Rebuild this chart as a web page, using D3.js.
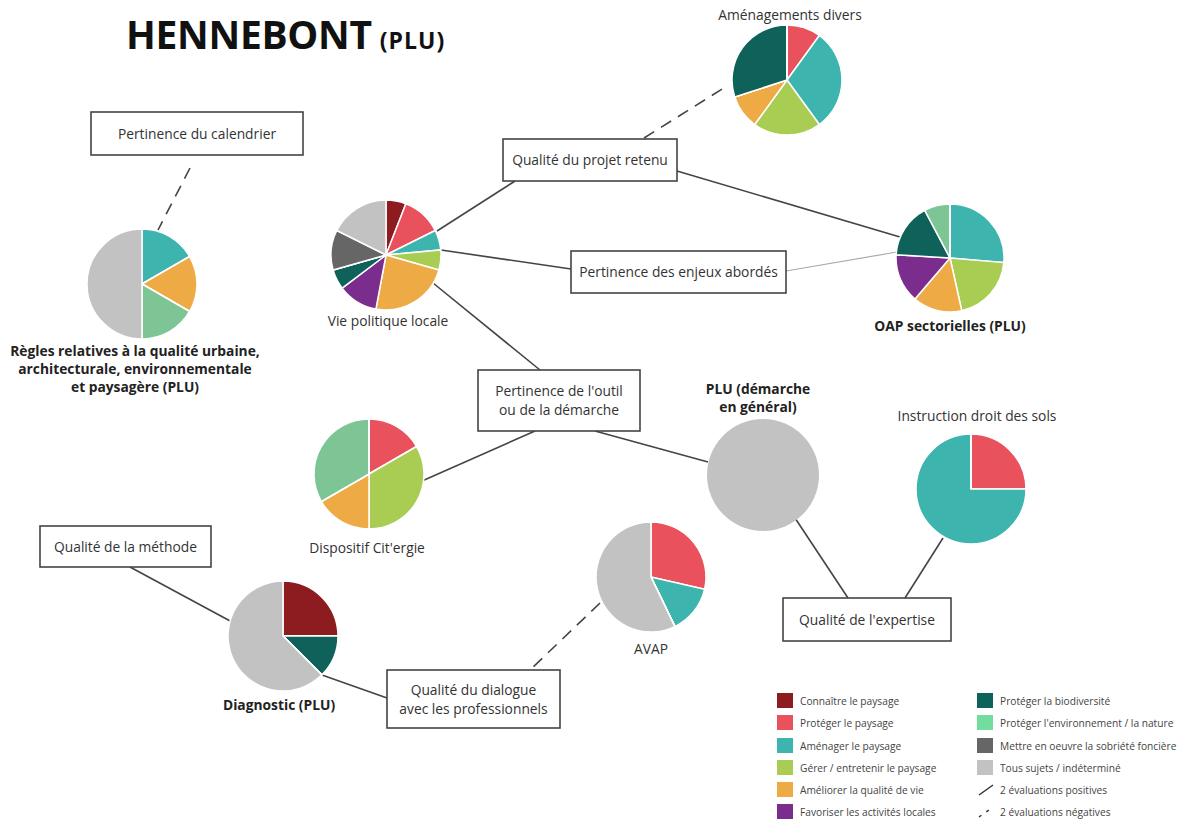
<!DOCTYPE html>
<html>
<head>
<meta charset="utf-8">
<script src="https://cdnjs.cloudflare.com/ajax/libs/d3/7.8.5/d3.min.js"></script>
<style>
  body { margin: 0; background: #fff; }
  text { font-family: "Open Sans", "Noto Sans", sans-serif; fill: #333; }
</style>
</head>
<body>
<div id="chart"></div>
<script>
// categories (legend order = slice order)
var categories = ["Connaître le paysage", "Protéger le paysage", "Aménager le paysage",
  "Gérer / entretenir le paysage", "Améliorer la qualité de vie", "Favoriser les activités locales",
  "Protéger la biodiversité", "Protéger l'environnement / la nature",
  "Mettre en oeuvre la sobriété foncière", "Tous sujets / indéterminé"];
var colors = ["#8c1c1f", "#e9525c", "#3db5ae", "#a9cc52", "#eeab45", "#7a2d8c",
  "#0f6259", "#7ec596", "#666666", "#c2c2c2"];

// values per pie, in category order
var amenagementsDivers = [0, 1, 3, 2, 1, 0, 3, 0, 0, 0];
var viePolitique      = [1, 2, 1, 1, 4, 2, 1, 0, 2, 3];
var oapSectorielles   = [0, 0, 3.4, 2.6, 1.9, 1.9, 2.1, 1, 0, 0];
var reglesQualite     = [0, 0, 1, 0, 1, 0, 0, 1, 0, 3];
var citergie          = [0, 1, 0, 2, 1, 0, 0, 2, 0, 0];
var pluGeneral        = [0, 0, 0, 0, 0, 0, 0, 0, 0, 1];
var instructionSols   = [0, 1, 3, 0, 0, 0, 0, 0, 0, 0];
var diagnostic        = [2, 0, 0, 0, 0, 0, 1, 0, 0, 5];
var avap              = [0, 2, 1, 0, 0, 0, 0, 0, 0, 4];

var svg = d3.select("#chart").append("svg")
    .attr("width", 1185)
    .attr("height", 823);

// layout of nodes
var pies = [
  {id: "amen", values: amenagementsDivers, x: 787, y: 80, r: 55,
    label: ["Aménagements divers"], lx: 790, ly: 20, bold: false},
  {id: "vie", values: viePolitique, x: 386, y: 255, r: 55,
    label: ["Vie politique locale"], lx: 388, ly: 326, bold: false},
  {id: "oap", values: oapSectorielles, x: 950, y: 258, r: 54,
    label: ["OAP sectorielles (PLU)"], lx: 950, ly: 331, bold: true},
  {id: "regles", values: reglesQualite, x: 142, y: 284, r: 55,
    label: ["Règles relatives à la qualité urbaine,", "architecturale, environnementale", "et paysagère (PLU)"],
    lx: 135, ly: 356, bold: true},
  {id: "cit", values: citergie, x: 369, y: 474, r: 55,
    label: ["Dispositif Cit'ergie"], lx: 367, ly: 553, bold: false},
  {id: "plu", values: pluGeneral, x: 763, y: 475, r: 56,
    label: ["PLU (démarche", "en général)"], lx: 758, ly: 394, bold: true},
  {id: "instr", values: instructionSols, x: 971, y: 489, r: 55,
    label: ["Instruction droit des sols"], lx: 977, ly: 421, bold: false},
  {id: "diag", values: diagnostic, x: 283, y: 636, r: 55,
    label: ["Diagnostic (PLU)"], lx: 279, ly: 710, bold: true},
  {id: "avap", values: avap, x: 651, y: 577, r: 55,
    label: ["AVAP"], lx: 651, ly: 654, bold: false}
];

var boxes = [
  {id: "cal", text: ["Pertinence du calendrier"], x: 91, y: 112, w: 212, h: 43},
  {id: "proj", text: ["Qualité du projet retenu"], x: 503, y: 139, w: 174, h: 42},
  {id: "enj", text: ["Pertinence des enjeux abordés"], x: 571, y: 251, w: 215, h: 42},
  {id: "outil", text: ["Pertinence de l'outil", "ou de la démarche"], x: 478, y: 370, w: 162, h: 61},
  {id: "meth", text: ["Qualité de la méthode"], x: 40, y: 526, w: 171, h: 41},
  {id: "dial", text: ["Qualité du dialogue", "avec les professionnels"], x: 387, y: 670, w: 173, h: 58},
  {id: "exp", text: ["Qualité de l'expertise"], x: 783, y: 598, w: 168, h: 43}
];

// links: [x1,y1,x2,y2,type]
var links = [
  [190, 168, 158, 230, "neg"],
  [644, 138, 727, 86, "neg"],
  [437, 231, 515, 181, "pos"],
  [677, 171, 900, 237, "pos"],
  [441, 250, 571, 269, "pos"],
  [786, 271, 897, 252, "light"],
  [433, 283, 540, 370, "pos"],
  [535, 431, 422, 481, "pos"],
  [595, 431, 708, 462, "pos"],
  [795, 518, 848, 598, "pos"],
  [943, 538, 905, 598, "pos"],
  [130, 567, 232, 622, "pos"],
  [322, 675, 387, 698, "pos"],
  [600, 603, 530, 670, "neg"]
];

svg.append("g").selectAll("line")
  .data(links)
  .enter().append("line")
    .attr("x1", d => d[0]).attr("y1", d => d[1])
    .attr("x2", d => d[2]).attr("y2", d => d[3])
    .attr("stroke", d => d[4] == "light" ? "#aaa" : "#444")
    .attr("stroke-width", d => d[4] == "light" ? 1.2 : 1.6)
    .attr("stroke-dasharray", d => d[4] == "neg" ? "12,8" : null);

// pies
var pie = d3.pie().sort(null).value(d => d);
pies.forEach(function(p) {
  var arc = d3.arc().innerRadius(0).outerRadius(p.r);
  var g = svg.append("g").attr("transform", "translate(" + p.x + "," + p.y + ")");
  var nz = p.values.filter(v => v > 0).length;
  g.selectAll("path")
    .data(pie(p.values))
    .enter().append("path")
      .attr("d", arc)
      .attr("fill", (d, i) => colors[i])
      .attr("stroke", nz > 1 ? "#fff" : "none")
      .attr("stroke-width", 1.5);

  var t = svg.append("text")
    .attr("text-anchor", "middle")
    .style("font-size", p.bold ? "13.8px" : "13.8px")
    .style("font-weight", p.bold ? "bold" : "normal")
    .style("fill", p.bold ? "#222" : "#333");
  p.label.forEach(function(l, i) {
    t.append("tspan").attr("x", p.lx).attr("y", p.ly + i * 18).text(l);
  });
});

// boxes
var bg = svg.append("g").selectAll("g")
  .data(boxes)
  .enter().append("g");
bg.append("rect")
  .attr("x", d => d.x).attr("y", d => d.y)
  .attr("width", d => d.w).attr("height", d => d.h)
  .attr("fill", "#fff")
  .attr("stroke", "#444")
  .attr("stroke-width", 1.6);
bg.each(function(d) {
  var t = d3.select(this).append("text")
    .attr("text-anchor", "middle")
    .style("font-size", "13.8px");
  var n = d.text.length;
  d.text.forEach(function(l, i) {
    t.append("tspan")
      .attr("x", d.x + d.w / 2)
      .attr("y", d.y + d.h / 2 + 5 + (i - (n - 1) / 2) * 19)
      .text(l);
  });
});

// title
var title = svg.append("text")
  .attr("x", 126).attr("y", 49)
  .style("font-weight", "bold").style("fill", "#111");
title.append("tspan").style("font-size", "39px").style("letter-spacing", "-0.3px").text("HENNEBONT");
title.append("tspan").attr("dx", 8).style("font-size", "23px").style("letter-spacing", "1px").text("(PLU)");

// legend
var rowY = [701, 723, 746, 768, 790, 812];
var legend = svg.append("g");
categories.forEach(function(c, i) {
  var col = i < 6 ? 0 : 1;
  var row = i < 6 ? i : i - 6;
  var x0 = col == 0 ? 777 : 977;
  legend.append("rect")
    .attr("x", x0).attr("y", rowY[row] - 8)
    .attr("width", 16).attr("height", 15)
    .attr("fill", i == 7 ? "#72dd9e" : colors[i]);
  legend.append("text")
    .attr("x", x0 + 23).attr("y", rowY[row] + 3.5)
    .style("font-size", "10.2px").style("fill", "#444")
    .text(c);
});
var lineLegend = [["2 évaluations positives", null], ["2 évaluations négatives", "3,6"]];
lineLegend.forEach(function(l, i) {
  var y = rowY[4 + i];
  legend.append("line")
    .attr("x1", 979).attr("y1", y + 5).attr("x2", 993).attr("y2", y - 5)
    .attr("stroke", "#333").attr("stroke-width", 1.5)
    .attr("stroke-dasharray", l[1]);
  legend.append("text")
    .attr("x", 1000).attr("y", y + 3.5)
    .style("font-size", "10.2px").style("fill", "#444")
    .text(l[0]);
});
</script>
</body>
</html>
